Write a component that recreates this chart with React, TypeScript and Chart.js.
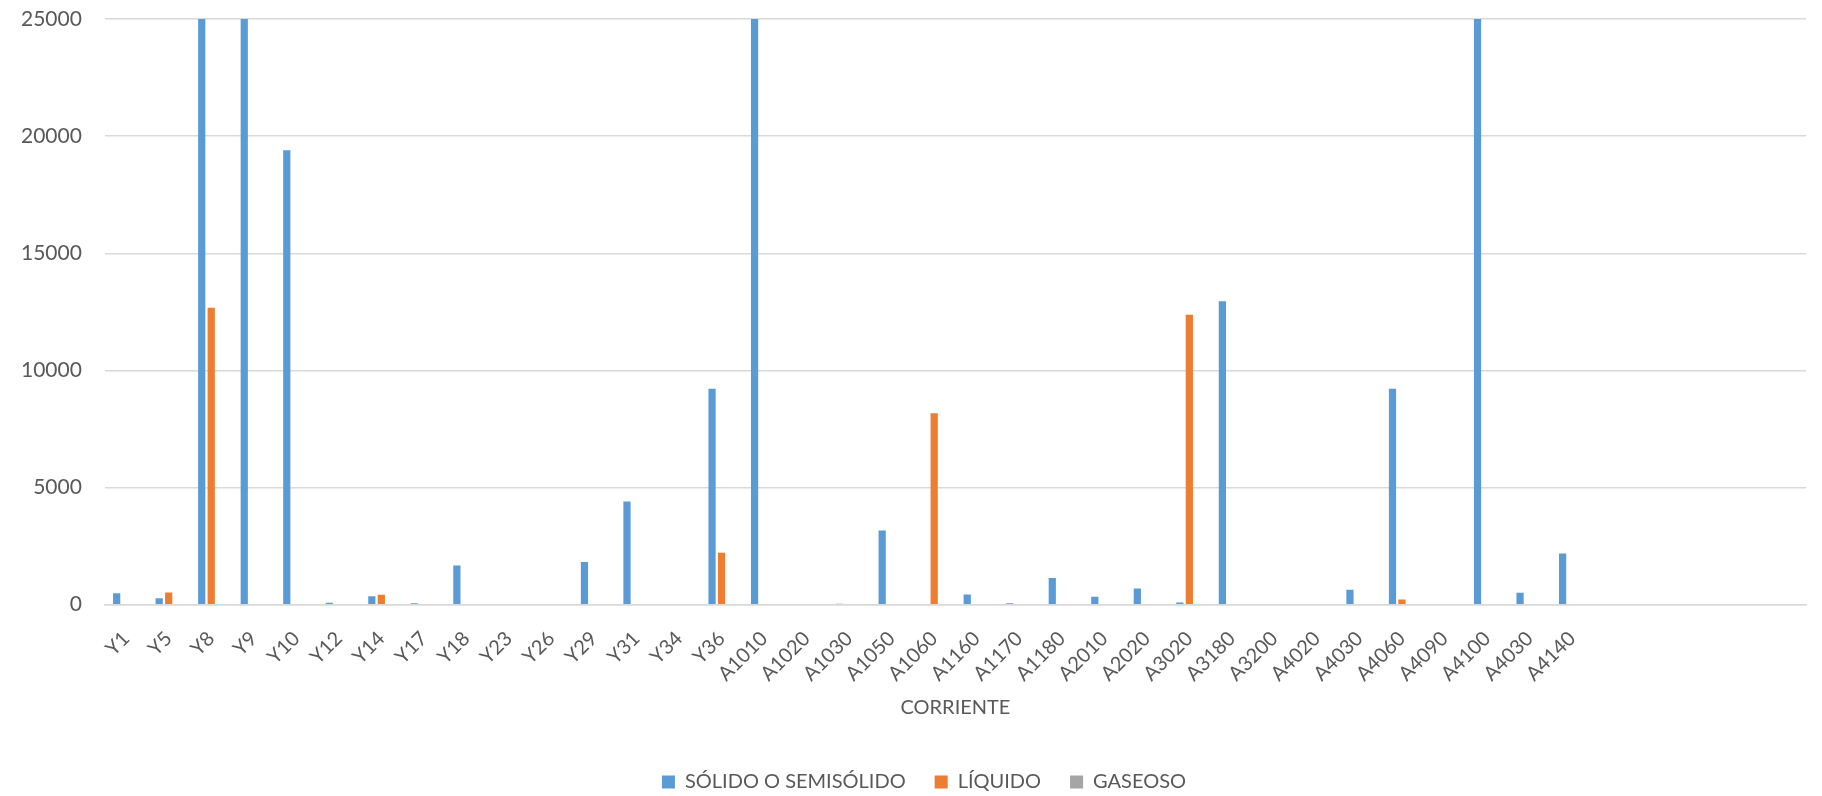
import React, { useEffect, useRef } from "react";
import { Chart, registerables } from "chart.js";

Chart.register(...registerables);

const categories: string[] = [
  "Y1", "Y5", "Y8", "Y9", "Y10", "Y12", "Y14", "Y17", "Y18", "Y23",
  "Y26", "Y29", "Y31", "Y34", "Y36", "A1010", "A1020", "A1030", "A1050", "A1060",
  "A1160", "A1170", "A1180", "A2010", "A2020", "A3020", "A3180", "A3200", "A4020", "A4030",
  "A4060", "A4090", "A4100", "A4030", "A4140", "", "", "", "", "",
];

const solido: (number | null)[] = [
  490, 270, 38000, 36000, 19400, 80, 360, 60, 1670, 0,
  0, 1820, 4400, 0, 9220, 42000, 0, 40, 3160, 0,
  430, 60, 1140, 340, 690, 90, 12950, 0, 0, 640,
  9220, 0, 45000, 510, 2180, null, null, null, null, null,
];

const liquido: (number | null)[] = [
  0, 520, 12670, 0, 0, 0, 420, 0, 0, 0,
  0, 0, 0, 0, 2210, 0, 0, 0, 0, 8170,
  0, 0, 0, 0, 0, 12370, 0, 0, 0, 0,
  220, 0, 0, 0, 0, null, null, null, null, null,
];

const gaseoso: (number | null)[] = [
  0, 0, 0, 0, 0, 0, 0, 0, 0, 0,
  0, 0, 0, 0, 0, 0, 0, 0, 0, 0,
  0, 0, 0, 0, 0, 0, 0, 0, 0, 0,
  0, 0, 0, 0, 0, null, null, null, null, null,
];

const yTicks: number[] = [0, 5000, 10000, 15000, 20000, 25000];

const legendShift = {
  id: "legendShift",
  afterLayout(chart: any) {
    const lg = chart.legend;
    if (lg) {
      lg.left += 22;
      lg.right += 22;
    }
  },
};

export default function App() {
  const ref = useRef<HTMLCanvasElement | null>(null);

  useEffect(() => {
    document.body.style.margin = "0";
    const canvas = ref.current;
    if (!canvas) return;
    const font = "Lato, 'Noto Sans', sans-serif";
    const txt = "#595959";
    const chart = new Chart(canvas, {
      type: "bar",
      data: {
        labels: categories,
        datasets: [
          { label: "SÓLIDO O SEMISÓLIDO", data: solido, backgroundColor: "#5B9BD5", clip: 0 },
          { label: "LÍQUIDO", data: liquido, backgroundColor: "#ED7D31", clip: 0 },
          { label: "GASEOSO", data: gaseoso, backgroundColor: "#A5A5A5", clip: 0 },
        ] as any,
      },
      plugins: [legendShift],
      options: {
        animation: false,
        responsive: false,
        maintainAspectRatio: false,
        datasets: { bar: { categoryPercentage: 0.67, barPercentage: 0.76 } },
        layout: { padding: { top: 19, right: 16, left: -2, bottom: -6 } },
        plugins: {
          legend: {
            position: "bottom",
            labels: {
              font: { family: font, size: 20 },
              color: txt,
              boxWidth: 13,
              boxHeight: 13,
              padding: 29,
            },
          },
          tooltip: { enabled: false },
        },
        scales: {
          x: {
            grid: { display: false },
            border: { display: true, color: "#d9d9d9", width: 1.5 },
            afterFit: (axis: any) => {
              axis.height -= 8;
            },
            ticks: {
              autoSkip: false,
              maxRotation: 45,
              minRotation: 45,
              font: { family: font, size: 20 },
              color: txt,
              padding: 14,
            },
            title: {
              display: true,
              text: "CORRIENTE",
              font: { family: font, size: 20 },
              color: txt,
              padding: { top: 4, bottom: 23 },
            },
          },
          y: {
            min: 0,
            max: 25000,
            afterBuildTicks: (axis: any) => {
              axis.ticks = yTicks.map((v) => ({ value: v }));
            },
            afterFit: (axis: any) => {
              axis.paddingTop = 0;
              axis.paddingBottom = 0;
            },
            grid: { color: "#d9d9d9", lineWidth: 1.5, drawTicks: false },
            border: { display: false },
            ticks: {
              font: { family: font, size: 21 },
              color: txt,
              padding: 23,
              callback: (v: any) => String(v),
            },
          },
        },
      } as any,
    });
    return () => chart.destroy();
  }, []);

  return (
    <div style={{ width: 1822, height: 796 }}>
      <canvas ref={ref} width={1822} height={796} style={{ width: 1822, height: 796, display: "block" }} />
    </div>
  );
}
